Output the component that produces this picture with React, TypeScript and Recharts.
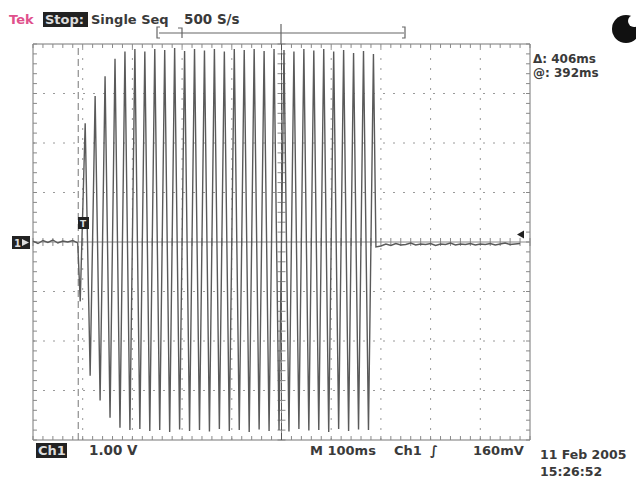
import { LineChart, Line, XAxis, YAxis, ReferenceLine } from "recharts";

// scope capture: 1 V/div, 100 ms/div, 500 S/s
// pre-trigger baseline, one reading every 10 ms from t=0
const preTrigger = [0.02, -0.03, 0.03, -0.01, 0.04, -0.02, 0.02, 0.0, 0.03, -0.02];

// burst: one trough and one crest per 20 ms cycle (volts)
const burstTroughs = [
  -1.2, -2.7, -3.2, -3.55, -3.75, -3.8, -3.78, -3.82, -3.8, -3.84,
  -3.79, -3.82, -3.8, -3.83, -3.78, -3.82, -3.8, -3.84, -3.79, -3.82,
  -3.8, -3.83, -3.78, -3.81, -3.8, -3.84, -3.78, -3.82, -3.79, -3.8,
];
const burstPeaks = [
  2.4, 2.95, 3.35, 3.7, 3.85, 3.9, 3.85, 3.9, 3.88, 3.92,
  3.86, 3.9, 3.87, 3.9, 3.85, 3.9, 3.88, 3.9, 3.86, 3.9,
  3.88, 3.85, 3.9, 3.87, 3.9, 3.85, 3.88, 3.82, 3.86, 3.8,
];

// after the burst, one reading every 10 ms from t=690
const postBurst = [
  -0.1, -0.08, -0.04, -0.07, -0.03, -0.06, -0.05, -0.02, -0.06, -0.04,
  -0.05, -0.03, -0.07, -0.04, -0.05, -0.02, -0.06, -0.04, -0.05, -0.03,
  -0.06, -0.04, -0.05, -0.03, -0.06, -0.04, -0.02, -0.05, -0.04, -0.03,
];

const xTicks = [0, 100, 200, 300, 400, 500, 600, 700, 800, 900, 1000];
const yTicks = [-4, -3, -2, -1, 0, 1, 2, 3, 4];

const data: { t: number; v: number }[] = [];
preTrigger.forEach((v, i) => data.push({ t: i * 10, v }));
burstTroughs.forEach((lo, i) => {
  data.push({ t: 95 + i * 20, v: lo });
  data.push({ t: 105 + i * 20, v: burstPeaks[i] });
});
postBurst.forEach((v, i) => data.push({ t: 690 + i * 10, v }));

// minor ticks every 1/5 division
const minorX: number[] = [];
for (let t = 0; t <= 1000; t += 20) minorX.push(t);
const minorY: number[] = [];
for (let k = -20; k <= 20; k++) minorY.push(k / 5);

const TK = 0.08; // ~4px in volts
const TKX = 8; // ~4px in ms
const font = "'DejaVu Sans', sans-serif";
const ink = "#3a3a3a";

export default function App() {
  return (
    <div style={{ position: "absolute", left: 0, top: 0, width: 636, height: 478, background: "#fff" }}>
      <LineChart width={636} height={478} data={data} margin={{ top: 44, right: 106, bottom: 38, left: 33 }}>
        <XAxis dataKey="t" type="number" domain={[0, 1000]} ticks={xTicks} hide />
        <YAxis type="number" domain={[-4, 4]} ticks={yTicks} hide />
        {xTicks.slice(1, -1).filter((t) => t !== 500).map((t) => (
          <ReferenceLine key={"gx" + t} x={t} stroke="#9a9a9a" strokeDasharray="2 8" />
        ))}
        {yTicks.slice(1, -1).filter((v) => v !== 0).map((v) => (
          <ReferenceLine key={"gy" + v} y={v} stroke="#9a9a9a" strokeDasharray="2 8" />
        ))}
        <ReferenceLine x={0} stroke="#777" />
        <ReferenceLine x={1000} stroke="#777" />
        <ReferenceLine y={4} stroke="#777" />
        <ReferenceLine y={-4} stroke="#777" />
        <ReferenceLine x={500} stroke="#888" />
        <ReferenceLine y={0} stroke="#888" />
        {minorX.map((t) => (
          <ReferenceLine key={"tt" + t} segment={[{ x: t, y: 4 }, { x: t, y: 4 - TK }]} stroke="#888" />
        ))}
        {minorX.map((t) => (
          <ReferenceLine key={"tb" + t} segment={[{ x: t, y: -4 }, { x: t, y: -4 + TK }]} stroke="#888" />
        ))}
        {minorX.map((t) => (
          <ReferenceLine key={"tc" + t} segment={[{ x: t, y: -TK }, { x: t, y: TK }]} stroke="#888" />
        ))}
        {minorY.map((v) => (
          <ReferenceLine key={"tl" + v} segment={[{ x: 0, y: v }, { x: TKX, y: v }]} stroke="#888" />
        ))}
        {minorY.map((v) => (
          <ReferenceLine key={"tr" + v} segment={[{ x: 1000, y: v }, { x: 1000 - TKX, y: v }]} stroke="#888" />
        ))}
        {minorY.map((v) => (
          <ReferenceLine key={"tm" + v} segment={[{ x: 500 - TKX, y: v }, { x: 500 + TKX, y: v }]} stroke="#888" />
        ))}
        <ReferenceLine x={91} stroke="#777" strokeDasharray="7 4" />
        <ReferenceLine x={500} stroke="#555" strokeDasharray="7 3" />
        <Line dataKey="v" type="linear" stroke="#5a5a5a" strokeWidth={1.4} dot={false} isAnimationActive={false} />
      </LineChart>

      <svg width={636} height={478} style={{ position: "absolute", left: 0, top: 0, pointerEvents: "none" }}>
        <g fontFamily={font} fontWeight="bold" fontSize={13}>
          <text x={9} y={24} fill="#e0508c">Tek</text>
          <rect x={43} y={12} width={45} height={15} fill="#222" />
          <text x={45} y={24} fill="#ddd">Stop:</text>
          <text x={91} y={24} fill={ink}>Single Seq</text>
          <text x={184} y={24} fill={ink} fontSize={13.5}>500 S/s</text>

          <text x={533} y={63} fill={ink} fontSize={12}>Δ: 406ms</text>
          <text x={533} y={77} fill={ink} fontSize={12}>@: 392ms</text>

          <rect x={36} y={443} width={31} height={15} fill="#222" />
          <text x={38} y={455} fill="#ddd">Ch1</text>
          <text x={89} y={455} fill={ink} fontSize={13.5}>1.00 V</text>
          <text x={310} y={455} fill={ink}>M 100ms</text>
          <text x={394} y={455} fill={ink}>Ch1</text>
          <text x={430} y={455} fill={ink}>∫</text>
          <text x={473} y={455} fill={ink}>160mV</text>
          <text x={540} y={459} fill={ink} fontSize={12.5}>11 Feb 2005</text>
          <text x={540} y={476} fill={ink} fontSize={12.5}>15:26:52</text>
        </g>

        {/* record view bar */}
        <g stroke="#666" strokeWidth={1.2} fill="none">
          <line x1={159} y1={33} x2={404} y2={33} />
          <path d="M160 27 H157 V38 H160" />
          <path d="M402 27 H405 V38 H402" />
          <path d="M178 28 H182 V38" />
          <line x1={281} y1={24} x2={281} y2={44} />
        </g>

        {/* channel, trigger markers */}
        <rect x={12} y={236} width={18} height={13} fill="#222" />
        <text x={14} y={247} fontFamily={font} fontWeight="bold" fontSize={10} fill="#ddd">1</text>
        <path d="M22 239 L29 242.5 L22 246 Z" fill="#ddd" />
        <rect x={78} y={217} width={11} height={12} fill="#222" />
        <text x={80} y={227} fontFamily={font} fontWeight="bold" fontSize={9} fill="#ddd">T</text>
        <path d="M517 234.5 L524 230.5 L524 238.5 Z" fill="#222" />

        {/* status icon */}
        <circle cx={626} cy={29} r={14} fill="#111" />
        <circle cx={634} cy={21} r={6} fill="#fff" />
      </svg>
    </div>
  );
}
